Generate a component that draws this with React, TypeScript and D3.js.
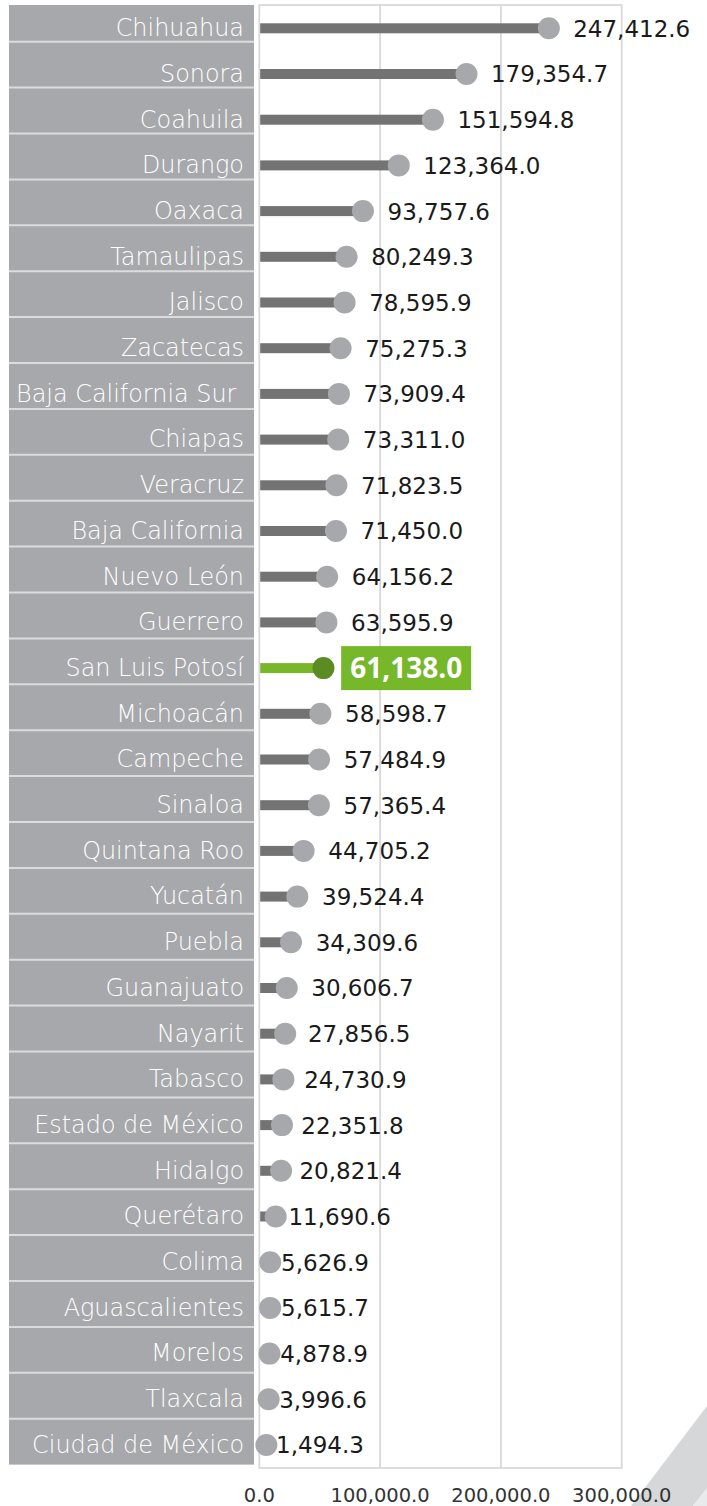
import React, { useEffect } from "react";
import * as d3 from "d3";

const categories = ["Chihuahua","Sonora","Coahuila","Durango","Oaxaca","Tamaulipas","Jalisco","Zacatecas","Baja California Sur ","Chiapas","Veracruz","Baja California","Nuevo León","Guerrero","San Luis Potosí","Michoacán","Campeche","Sinaloa","Quintana Roo","Yucatán","Puebla","Guanajuato","Nayarit","Tabasco","Estado de México","Hidalgo","Querétaro","Colima","Aguascalientes","Morelos","Tlaxcala","Ciudad de México"];
const values = [247412.6,179354.7,151594.8,123364.0,93757.6,80249.3,78595.9,75275.3,73909.4,73311.0,71823.5,71450.0,64156.2,63595.9,61138.0,58598.7,57484.9,57365.4,44705.2,39524.4,34309.6,30606.7,27856.5,24730.9,22351.8,20821.4,11690.6,5626.9,5615.7,4878.9,3996.6,1494.3];
const tickValues = [0, 100000, 200000, 300000];
const highlight = "San Luis Potosí";

const W = 707, H = 1506;
const plotTop = 5, plotBottom = 1468, plotLeft = 259.3, plotRight = 621.7;

export default function App() {
  useEffect(() => { document.body.style.margin = "0"; }, []);
  const x = d3.scaleLinear().domain([0, 300000]).range([plotLeft, plotRight]);
  const xDot = d3.scaleLinear().domain([0, 12000, 31000, 300000]).range([265, 276, 287, 612.5]);
  const y = d3.scaleBand<string>().domain(categories).range([plotTop + 0.45, plotBottom - 0.15]).padding(0);
  const yBox = d3.scaleBand<string>().domain(categories).range([-4.2, 1464.6]).padding(0);
  const fmt = d3.format(",.1f");
  const bw = y.bandwidth();
  return (
    <svg width={W} height={H} style={{ position: "absolute", left: 0, top: 0, background: "#fff" }}>
      {/* decorative stripe */}
      <polygon points="631,1506 707,1406 707,1488 693,1506" fill="#d5d7d9" />
      <polygon points="693,1506 707,1488 707,1506" fill="#e9eaeb" />
      {/* label boxes */}
      <rect x={9} y={plotTop} width={245} height={1464.6 - plotTop} fill="#a7a8ab" />
      {categories.slice(1).map((c) => (
        <line key={"s" + c} x1={9} x2={254} y1={yBox(c)!} y2={yBox(c)!} stroke="#dcdcdc" strokeWidth={2} />
      ))}
      {categories.map((c) => (
        <text key={"l" + c} x={244} y={y(c)! + bw / 2 + 7.8} textAnchor="end" fill="#ffffff"
          fontFamily="DejaVu Sans" fontWeight={200} fontSize={23.9} style={{ whiteSpace: "pre" }}>{c}</text>
      ))}
      {/* frame & grid */}
      <rect x={plotLeft} y={plotTop} width={plotRight - plotLeft} height={plotBottom - plotTop} fill="none" stroke="#d9d9d9" strokeWidth={1.8} />
      {tickValues.slice(1, 3).map((t) => (
        <line key={"g" + t} x1={x(t)} x2={x(t)} y1={plotTop} y2={plotBottom} stroke="#d9d9d9" strokeWidth={1.8} />
      ))}
      {/* bars & dots */}
      {categories.map((c, i) => {
        const v = values[i];
        const cy = y(c)! + bw / 2;
        const hi = c === highlight;
        const cx = xDot(v);
        return (
          <g key={"b" + c}>
            <rect x={260.2} y={cy - 5} width={Math.max(0, cx - 260.2)} height={10} fill={hi ? "#78b72a" : "#737373"} />
            <circle cx={cx} cy={cy} r={11} fill={hi ? "#5b8c23" : "#a7a8ac"} />
            {hi ? (
              <g>
                <rect x={x(v) + 8} y={cy - 22} width={130} height={44} fill="#76b82a" />
                <text x={x(v) + 8 + 65} y={cy + 10} textAnchor="middle" fill="#ffffff" fontFamily="Open Sans" fontWeight={700} fontSize={28}>{fmt(v)}</text>
              </g>
            ) : (
              <text x={x(v) + 15} y={cy + 8.4} fill="#1a1a1a" fontFamily="DejaVu Sans" fontSize={23}>{fmt(v)}</text>
            )}
          </g>
        );
      })}
      {/* ticks */}
      {tickValues.map((t) => (
        <text key={"t" + t} x={x(t)} y={1502} textAnchor="middle" fill="#333333" fontFamily="DejaVu Sans" fontSize={19.5}>{fmt(t)}</text>
      ))}
    </svg>
  );
}
